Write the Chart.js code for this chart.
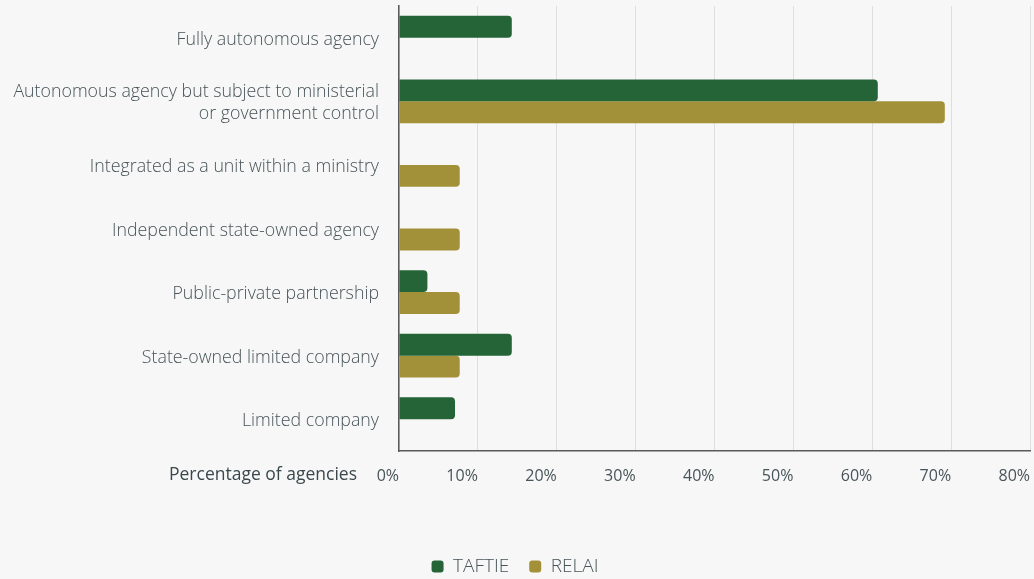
<!DOCTYPE html>
<html>
<head>
<meta charset="utf-8">
<script src="https://cdn.jsdelivr.net/npm/chart.js@4/dist/chart.umd.min.js"></script>
<style>
  html, body { margin: 0; padding: 0; background: #f7f7f7; }
  #wrap { width: 1034px; height: 579px; }
</style>
</head>
<body>
<div id="wrap"><canvas id="agencyChart"></canvas></div>
<script>
var categories = [
  'Fully autonomous agency',
  ['Autonomous agency but subject to ministerial', 'or government control'],
  'Integrated as a unit within a ministry',
  'Independent state-owned agency',
  'Public-private partnership',
  'State-owned limited company',
  'Limited company'
];
var taftie = [14.3, 60.7, 0, 0, 3.6, 14.3, 7.1];
var relai = [0, 69.2, 7.7, 7.7, 7.7, 7.7, 0];
var xTicks = [0, 10, 20, 30, 40, 50, 60, 70, 80];

var FONT = '"Open Sans", sans-serif';
var TEXT = '#475458';

// paints the page grey behind the chart
var background = {
  id: 'background',
  beforeDraw: function (chart) {
    var ctx = chart.ctx;
    ctx.save();
    ctx.fillStyle = '#f7f7f7';
    ctx.fillRect(0, 0, chart.width, chart.height);
    ctx.restore();
  }
};

// axis caption sits on the tick row, left of the 0%
var axisCaption = {
  id: 'axisCaption',
  afterDraw: function (chart) {
    var x = chart.scales.x;
    var ctx = chart.ctx;
    ctx.save();
    ctx.font = '17.5px ' + FONT;
    ctx.fillStyle = '#3a484c';
    ctx.textAlign = 'right';
    ctx.textBaseline = 'middle';
    ctx.fillText('Percentage of agencies', 357, x.top + 24);
    ctx.restore();
  }
};

var agencyChart = new Chart(document.getElementById('agencyChart'), {
  type: 'bar',
  data: {
    labels: categories,
    datasets: [{
      label: 'TAFTIE',
      data: taftie,
      backgroundColor: '#246437',
      borderRadius: 4,
      borderSkipped: 'start'
    }, {
      label: 'RELAI',
      data: relai,
      backgroundColor: '#a3913a',
      borderRadius: 4,
      borderSkipped: 'start'
    }]
  },
  options: {
    indexAxis: 'y',
    responsive: true,
    maintainAspectRatio: false,
    animation: false,
    layout: { padding: { top: 6, right: 4, left: 0, bottom: -7 } },
    categoryPercentage: 0.69,
    barPercentage: 1,
    scales: {
      x: {
        min: 0,
        max: 80,
        afterBuildTicks: function (scale) {
          scale.ticks = xTicks.map(function (v) { return { value: v }; });
        },
        afterFit: function (scale) {
          scale.height = 86;
          scale.paddingLeft = 0;
          scale.paddingRight = 0;
        },
        grid: { color: '#dedede', lineWidth: 1, drawTicks: false },
        border: { color: '#5a5a5a', width: 1.5 },
        ticks: {
          align: 'end',
          padding: 16,
          color: TEXT,
          font: { family: FONT, size: 16 },
          callback: function (v) { return v + '%'; }
        }
      },
      y: {
        afterFit: function (scale) {
          scale.width = 399;
          scale.paddingTop = 0;
          scale.paddingBottom = 0;
        },
        grid: { display: false, drawTicks: false },
        border: { color: '#5a5a5a', width: 1.5 },
        ticks: {
          padding: 20,
          labelOffset: 2,
          color: TEXT,
          font: { family: FONT, size: 17.8, weight: '300', lineHeight: 1.24 }
        }
      }
    },
    plugins: {
      legend: {
        position: 'bottom',
        labels: {
          boxWidth: 12,
          boxHeight: 12,
          useBorderRadius: true,
          borderRadius: 3,
          padding: 20,
          color: TEXT,
          font: { family: FONT, size: 19, weight: '300' }
        }
      },
      tooltip: { enabled: false }
    }
  },
  plugins: [background, axisCaption]
});
</script>
</body>
</html>
